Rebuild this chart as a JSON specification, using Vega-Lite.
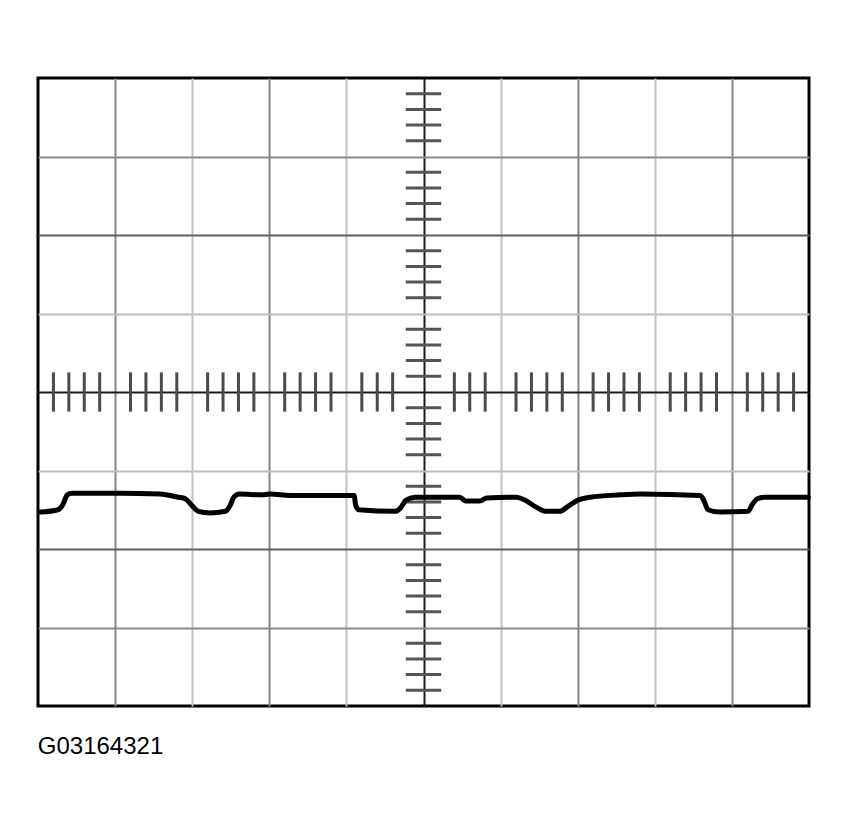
{
  "$schema": "https://vega.github.io/schema/vega-lite/v6.json",
  "width": 771,
  "height": 628,
  "autosize": "none",
  "padding": {"left": 38, "top": 78, "right": 40, "bottom": 125},
  "background": "white",
  "title": {
    "text": "G03164321",
    "orient": "bottom",
    "anchor": "start",
    "offset": 29,
    "font": "Liberation Sans",
    "fontSize": 24,
    "fontWeight": "normal",
    "color": "black"
  },
  "config": {
    "view": {"stroke": "black", "strokeWidth": 3},
    "axis": {"labels": false, "ticks": false, "domain": false, "title": null, "minExtent": 0, "maxExtent": 0}
  },
  "datasets": {
    "trace": [
      {"t": 0.03, "v": -1.53}, {"t": 0.26, "v": -1.50}, {"t": 0.32, "v": -1.44},
      {"t": 0.38, "v": -1.31}, {"t": 0.44, "v": -1.29}, {"t": 1.06, "v": -1.29},
      {"t": 1.58, "v": -1.30}, {"t": 1.82, "v": -1.34}, {"t": 1.91, "v": -1.36},
      {"t": 2.00, "v": -1.45}, {"t": 2.08, "v": -1.52}, {"t": 2.23, "v": -1.54},
      {"t": 2.43, "v": -1.52}, {"t": 2.49, "v": -1.45}, {"t": 2.54, "v": -1.34},
      {"t": 2.61, "v": -1.30}, {"t": 2.91, "v": -1.31}, {"t": 3.01, "v": -1.30},
      {"t": 3.27, "v": -1.32}, {"t": 4.10, "v": -1.32}, {"t": 4.12, "v": -1.44},
      {"t": 4.16, "v": -1.50}, {"t": 4.63, "v": -1.52}, {"t": 4.70, "v": -1.48},
      {"t": 4.77, "v": -1.38}, {"t": 4.89, "v": -1.34}, {"t": 5.47, "v": -1.34},
      {"t": 5.55, "v": -1.39}, {"t": 5.73, "v": -1.39}, {"t": 5.82, "v": -1.35},
      {"t": 6.20, "v": -1.34}, {"t": 6.32, "v": -1.38}, {"t": 6.45, "v": -1.46},
      {"t": 6.58, "v": -1.52}, {"t": 6.77, "v": -1.52}, {"t": 6.87, "v": -1.46},
      {"t": 7.00, "v": -1.38}, {"t": 7.16, "v": -1.34}, {"t": 7.55, "v": -1.31},
      {"t": 7.81, "v": -1.30}, {"t": 8.59, "v": -1.32}, {"t": 8.64, "v": -1.39},
      {"t": 8.69, "v": -1.50}, {"t": 8.85, "v": -1.53}, {"t": 9.21, "v": -1.52},
      {"t": 9.26, "v": -1.44}, {"t": 9.33, "v": -1.36}, {"t": 9.43, "v": -1.34},
      {"t": 9.99, "v": -1.34}
    ],
    "xticks": [
      {"t": 0.2}, {"t": 0.4}, {"t": 0.6}, {"t": 0.8},
      {"t": 1.2}, {"t": 1.4}, {"t": 1.6}, {"t": 1.8},
      {"t": 2.2}, {"t": 2.4}, {"t": 2.6}, {"t": 2.8},
      {"t": 3.2}, {"t": 3.4}, {"t": 3.6}, {"t": 3.8},
      {"t": 4.2}, {"t": 4.4}, {"t": 4.6},
      {"t": 5.4}, {"t": 5.6}, {"t": 5.8},
      {"t": 6.2}, {"t": 6.4}, {"t": 6.6}, {"t": 6.8},
      {"t": 7.2}, {"t": 7.4}, {"t": 7.6}, {"t": 7.8},
      {"t": 8.2}, {"t": 8.4}, {"t": 8.6}, {"t": 8.8},
      {"t": 9.2}, {"t": 9.4}, {"t": 9.6}, {"t": 9.8}
    ],
    "yticks": [
      {"v": 3.8}, {"v": 3.6}, {"v": 3.4}, {"v": 3.2},
      {"v": 2.8}, {"v": 2.6}, {"v": 2.4}, {"v": 2.2},
      {"v": 1.8}, {"v": 1.6}, {"v": 1.4}, {"v": 1.2},
      {"v": 0.8}, {"v": 0.6}, {"v": 0.4}, {"v": 0.2},
      {"v": -0.2}, {"v": -0.4}, {"v": -0.6}, {"v": -0.8},
      {"v": -1.2}, {"v": -1.4}, {"v": -1.6}, {"v": -1.8},
      {"v": -2.2}, {"v": -2.4}, {"v": -2.6}, {"v": -2.8},
      {"v": -3.2}, {"v": -3.4}, {"v": -3.6}, {"v": -3.8}
    ]
  },
  "layer": [
    {
      "data": {"name": "xticks"},
      "mark": {"type": "rule", "color": "#4a4a4a", "strokeWidth": 3},
      "encoding": {
        "x": {
          "field": "t",
          "type": "quantitative",
          "scale": {"domain": [0, 10], "nice": false, "zero": false},
          "axis": {
            "values": [1, 2, 3, 4, 5, 6, 7, 8, 9],
            "grid": true,
            "gridWidth": 2,
            "gridColor": {
              "condition": [
                {"test": "datum.value == 5", "value": "#1a1a1a"},
                {"test": "datum.value % 2 == 0", "value": "#c2c2c2"}
              ],
              "value": "#858585"
            }
          }
        },
        "y": {
          "datum": -0.25,
          "type": "quantitative",
          "scale": {"domain": [-4, 4], "nice": false, "zero": false},
          "axis": {
            "values": [-3, -2, -1, 0, 1, 2, 3],
            "grid": true,
            "gridWidth": 2,
            "gridColor": {
              "condition": [
                {"test": "datum.value == 0", "value": "#1a1a1a"},
                {"test": "abs(datum.value) == 1", "value": "#bdbdbd"},
                {"test": "abs(datum.value) == 2", "value": "#5e5e5e"}
              ],
              "value": "#8a8a8a"
            }
          }
        },
        "y2": {"datum": 0.25}
      }
    },
    {
      "data": {"name": "yticks"},
      "mark": {"type": "rule", "color": "#555555", "strokeWidth": 3},
      "encoding": {
        "y": {"field": "v", "type": "quantitative"},
        "x": {"datum": 4.77, "type": "quantitative"},
        "x2": {"datum": 5.23}
      }
    },
    {
      "data": {"name": "trace"},
      "mark": {"type": "line", "color": "black", "strokeWidth": 5, "strokeJoin": "round", "strokeCap": "round", "interpolate": "monotone"},
      "encoding": {
        "x": {"field": "t", "type": "quantitative"},
        "y": {"field": "v", "type": "quantitative"}
      }
    }
  ]
}
